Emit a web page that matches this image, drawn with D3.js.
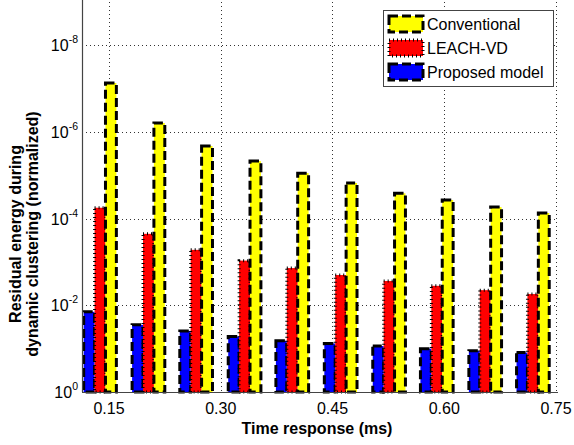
<!DOCTYPE html>
<html>
<head>
<meta charset="utf-8">
<script src="https://cdn.jsdelivr.net/npm/d3@7"></script>
<style>
  body { margin: 0; background: #fff; }
  svg { display: block; font-family: Arial, "Liberation Sans", sans-serif; }
</style>
</head>
<body>
<svg id="chart" width="574" height="445"></svg>
<script>
// group positions along the time axis (ms) and the tick labels
const timePoints = [0.138, 0.203, 0.267, 0.332, 0.396, 0.461, 0.526, 0.590, 0.655, 0.719];
const xTicks = [0.15, 0.30, 0.45, 0.60, 0.75];
const xTickLabels = ["0.15", "0.30", "0.45", "0.60", "0.75"];
const yTicks = [1, 1e-2, 1e-4, 1e-6, 1e-8];
const yTickExp = ["0", "-2", "-4", "-6", "-8"];

// series values
const seriesNames = ["Conventional", "LEACH-VD", "Proposed model"];
const proposed = [0.0141, 0.0282, 0.0389, 0.0525, 0.066, 0.0759, 0.087, 0.1, 0.112, 0.123];
const leachVD = [5.6e-5, 2.24e-4, 5.25e-4, 9.3e-4, 1.38e-3, 2.0e-3, 2.75e-3, 3.55e-3, 4.47e-3, 5.5e-3];
const conventional = [7.4e-8, 6.2e-7, 2.1e-6, 4.7e-6, 8.9e-6, 1.5e-5, 2.6e-5, 3.7e-5, 5.4e-5, 7.4e-5];

const svg = d3.select("#chart");
const plotLeft = 82, plotRight = 558, plotTop = 2, plotBottom = 392;

const x = d3.scaleLinear().domain([0.1138, 0.7527]).range([plotLeft, plotRight]);
const y = d3.scaleLog().domain([1, 1e-9]).range([plotBottom, plotTop]);

// grid (dotted)
const grid = svg.append("g").attr("stroke", "#333").attr("stroke-width", 1)
  .attr("stroke-dasharray", "1,3");
grid.selectAll("line.h").data(yTicks.slice(1)).join("line")
  .attr("class", "h")
  .attr("x1", plotLeft).attr("x2", plotRight)
  .attr("y1", d => Math.round(y(d)) + 0.5).attr("y2", d => Math.round(y(d)) + 0.5);
grid.selectAll("line.v").data(xTicks).join("line")
  .attr("class", "v")
  .attr("x1", d => Math.round(x(d)) + 0.5).attr("x2", d => Math.round(x(d)) + 0.5)
  .attr("y1", plotTop).attr("y2", plotBottom);

// bars
const spacing = x(timePoints[1]) - x(timePoints[0]);
const barW = spacing * 0.225;
const series = [
  { name: "Proposed model", values: proposed, fill: "#0000ff", dash: "9,4", sw: 3 },
  { name: "LEACH-VD", values: leachVD, fill: "#ff0000", dash: "1,3", sw: 3 },
  { name: "Conventional", values: conventional, fill: "#ffff00", dash: "9,4", sw: 3 }
];

series.forEach((s, k) => {
  svg.append("g").selectAll("rect")
    .data(s.values)
    .join("rect")
    .attr("x", (d, i) => x(timePoints[i]) + (k - 1.5) * barW)
    .attr("y", d => y(d))
    .attr("width", barW)
    .attr("height", d => y(1) - y(d))
    .attr("fill", s.fill)
    .attr("stroke", "#000")
    .attr("stroke-width", s.sw)
    .attr("stroke-dasharray", s.dash);
});

// axes lines
svg.append("line").attr("x1", plotLeft + 0.5).attr("x2", plotLeft + 0.5).attr("y1", 0).attr("y2", plotBottom)
  .attr("stroke", "#444").attr("stroke-width", 1.2);
svg.append("line").attr("x1", plotLeft).attr("x2", plotRight).attr("y1", plotBottom + 0.5).attr("y2", plotBottom + 0.5)
  .attr("stroke", "#444").attr("stroke-width", 1.2);

// y tick labels 10^n
const yl = svg.append("g");
yTicks.forEach((t, i) => {
  const txt = yl.append("text")
    .attr("x", 78).attr("y", y(t) + 6)
    .attr("text-anchor", "end")
    .attr("font-size", 16);
  txt.append("tspan").text("10");
  txt.append("tspan").attr("dy", -8).attr("font-size", 10.5).text(yTickExp[i]);
});

// x tick labels
svg.append("g").selectAll("text")
  .data(xTicks)
  .join("text")
  .attr("x", d => x(d))
  .attr("y", 414)
  .attr("text-anchor", "middle")
  .attr("font-size", 16)
  .text((d, i) => xTickLabels[i]);

// axis titles
svg.append("text")
  .attr("x", 317).attr("y", 434)
  .attr("text-anchor", "middle")
  .attr("font-size", 16).attr("font-weight", "bold")
  .text("Time response (ms)");

const ytitle = svg.append("text")
  .attr("transform", "translate(0,234) rotate(-90)")
  .attr("text-anchor", "middle")
  .attr("font-size", 16).attr("font-weight", "bold");
ytitle.append("tspan").attr("x", 0).attr("y", 21).text("Residual energy during");
ytitle.append("tspan").attr("x", 0).attr("y", 38).text("dynamic clustering (normalized)");

// legend
const legend = svg.append("g");
legend.append("rect")
  .attr("x", 383.5).attr("y", 10.5).attr("width", 170).attr("height", 76)
  .attr("fill", "#fff").attr("stroke", "#444").attr("stroke-width", 1);
const legendItems = [series[2], series[1], series[0]];
legendItems.forEach((s, i) => {
  const cy = 24 + i * 24;
  legend.append("rect")
    .attr("x", 389).attr("y", cy - 8).attr("width", 34).attr("height", 16)
    .attr("fill", s.fill).attr("stroke", "#000")
    .attr("stroke-width", s.sw).attr("stroke-dasharray", s.dash);
  legend.append("text")
    .attr("x", 427).attr("y", cy + 6)
    .attr("font-size", 16)
    .text(s.name);
});
</script>
</body>
</html>
